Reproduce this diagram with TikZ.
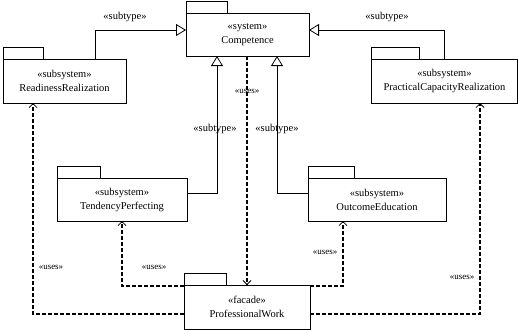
\documentclass[tikz,border=0pt]{standalone}
\usepackage{fontspec}
\setmainfont{Liberation Serif}
\usetikzlibrary{
    arrows.meta,
    positioning,
    calc
}

\begin{document}
\begin{tikzpicture}[
    x=1pt, y=-1pt,
    font=\fontsize{10.5}{14}\selectfont,
    tab/.style={anchor=south west, draw, line width=0.8pt, minimum height=12pt, inner sep=0pt, outer sep=0pt},
    pkg/.style={rectangle, draw, line width=0.8pt, align=center, inner sep=0pt, outer sep=0pt, label={[tab, minimum width=#1]north west:{}}},
    pkg/.default=42pt,
    gen/.style={line width=0.8pt, -{Triangle[open, length=10pt, width=12pt]}},
    uses/.style={line width=1.6pt, dash pattern=on 4pt off 2pt, -{Straight Barb[length=4pt, width=8pt, line width=0.8pt]}},
    usesthin/.style={uses, line width=1.1pt},
    stereo/.style={inner sep=0pt},
    usestext/.style={inner sep=0pt, font=\fontsize{9}{11}\selectfont}
]
    \useasboundingbox (0,0) rectangle (518,330);

    \node[pkg=41pt, minimum width=123pt, minimum height=43pt] (comp) at (247.5,34.5) {«system»\\Competence};
    \node[pkg=40pt, minimum width=123pt, minimum height=44pt] (rr) at (64.5,81) {«subsystem»\\ReadinessRealization};
    \node[pkg=48pt, minimum width=146pt, minimum height=44pt] (pcr) at (444.5,81) {«subsystem»\\PracticalCapacityRealization};
    \node[pkg=43pt, minimum width=130pt, minimum height=43pt] (tp) at (122,199.5) {«subsystem»\\TendencyPerfecting};
    \node[pkg=46pt, minimum width=138pt, minimum height=43pt] (oe) at (377,199.5) {«subsystem»\\OutcomeEducation};
    \node[pkg=42pt, minimum width=126pt, minimum height=44pt] (pw) at (247,307) {«facade»\\ProfessionalWork};

    \draw[gen] ([xshift=30.5pt]rr.north) |- ([yshift=4.5pt]comp.west);
    \draw[gen] (pcr.north) |- ([yshift=4.5pt]comp.east);
    \draw[gen] ([yshift=6.5pt]tp.east) -| ([xshift=-30.5pt]comp.south);
    \draw[gen] ([yshift=6.5pt]oe.west) -| ([xshift=29.5pt]comp.south);

    \draw[uses] (pw.north |- comp.south) -- (pw.north);
    \draw[usesthin] ([yshift=-1pt]pw.north west) -| (tp.south);
    \draw[uses] ([yshift=-7pt]pw.west) -| ([xshift=-31.5pt]rr.south);
    \draw[uses] ([yshift=-1pt]pw.north east) -| ([xshift=-34pt]oe.south);
    \draw[usesthin] ([yshift=-7pt]pw.east) -| ([xshift=35.5pt]pcr.south);

    \node[stereo] (subrr) at (125,17) {«subtype»};
    \node[stereo] (subpcr) at (387,17) {«subtype»};
    \node[stereo] (subtp) at (215,129) {«subtype»};
    \node[stereo] (suboe) at (277,129) {«subtype»};
    \node[usestext] (usescomp) at (247,91) {«uses»};
    \node[usestext] (usesrr) at (51,267) {«uses»};
    \node[usestext] (usestp) at (154,267) {«uses»};
    \node[usestext] (usesoe) at (325,252) {«uses»};
    \node[usestext] (usespcr) at (462,277) {«uses»};
\end{tikzpicture}
\end{document}
